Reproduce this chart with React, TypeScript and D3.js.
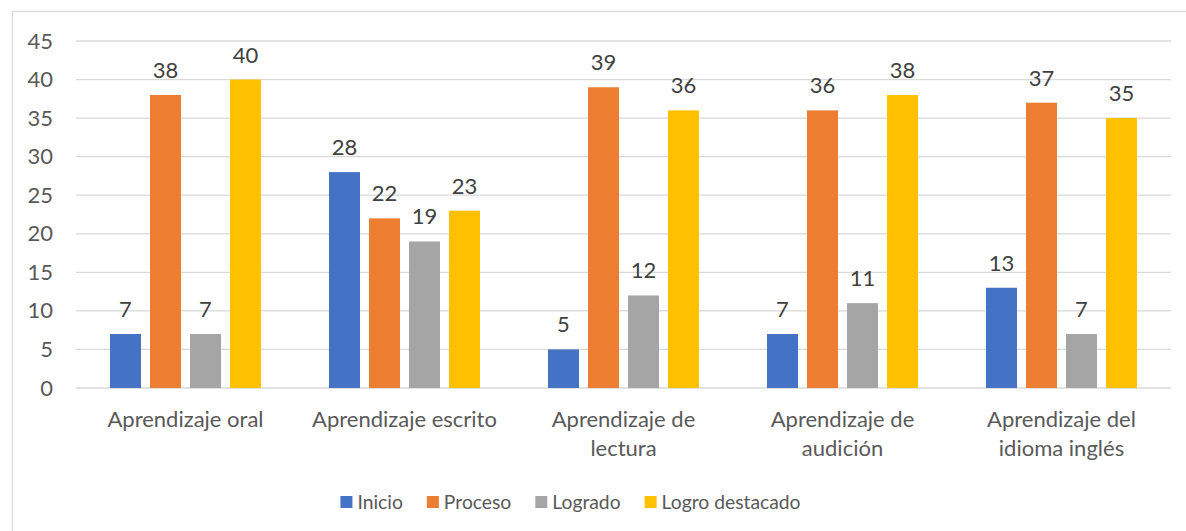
import React, { useEffect, useRef } from "react";
import * as d3 from "d3";

const categories = [
  "Aprendizaje oral",
  "Aprendizaje escrito",
  "Aprendizaje de lectura",
  "Aprendizaje de audición",
  "Aprendizaje del idioma inglés",
];
const seriesNames = ["Inicio", "Proceso", "Logrado", "Logro destacado"];
const inicio = [7, 28, 5, 7, 13];
const proceso = [38, 22, 39, 36, 37];
const logrado = [7, 19, 12, 11, 7];
const logroDestacado = [40, 23, 36, 38, 35];
const yTicks = [0, 5, 10, 15, 20, 25, 30, 35, 40, 45];

const colors = ["#4472C4", "#ED7D31", "#A5A5A5", "#FFC000"];
const FONT = "Lato, 'Open Sans', sans-serif";

const App = () => {
  const ref = useRef<SVGSVGElement>(null);

  useEffect(() => {
    const W = 1186,
      H = 531;
    const plot = { left: 76, right: 1171, top: 41, bottom: 388 };
    const values = [inicio, proceso, logrado, logroDestacado];

    const svg = d3.select(ref.current);
    svg.selectAll("*").remove();
    svg.attr("width", W).attr("height", H);

    // chart border (only top/left visible in the crop)
    svg
      .append("rect")
      .attr("x", 12.5)
      .attr("y", 11.5)
      .attr("width", 1300)
      .attr("height", 700)
      .attr("fill", "#fff")
      .attr("stroke", "#d9d9d9")
      .attr("stroke-width", 1.3);

    const x = d3
      .scaleBand<string>()
      .domain(categories)
      .range([plot.left, plot.right])
      .padding(0);
    const bw = x.bandwidth();
    const x1 = d3
      .scaleBand<string>()
      .domain(seriesNames)
      .range([bw / 2 - 75.5, bw / 2 + 75.5])
      .paddingInner(0.225)
      .paddingOuter(0);
    const y = d3.scaleLinear().domain([0, 45]).range([plot.bottom, plot.top]);

    // gridlines
    svg
      .append("g")
      .selectAll("line")
      .data(yTicks)
      .join("line")
      .attr("x1", plot.left)
      .attr("x2", plot.right)
      .attr("y1", (d) => y(d))
      .attr("y2", (d) => y(d))
      .attr("stroke", "#d9d9d9")
      .attr("stroke-width", 1.3);

    // y tick labels
    svg
      .append("g")
      .selectAll("text")
      .data(yTicks)
      .join("text")
      .attr("x", 53)
      .attr("y", (d) => y(d) + 7.5)
      .attr("text-anchor", "end")
      .attr("font-family", FONT)
      .attr("font-size", 22)
      .attr("fill", "#595959")
      .text((d) => d);

    // bars + labels
    seriesNames.forEach((s, si) => {
      const g = svg.append("g");
      g.selectAll("rect")
        .data(values[si])
        .join("rect")
        .attr("x", (d, i) => (x(categories[i]) as number) + (x1(s) as number))
        .attr("y", (d) => y(d))
        .attr("width", x1.bandwidth())
        .attr("height", (d) => y(0) - y(d))
        .attr("fill", colors[si]);
      g.selectAll("text")
        .data(values[si])
        .join("text")
        .attr("x", (d, i) => (x(categories[i]) as number) + (x1(s) as number) + x1.bandwidth() / 2)
        .attr("y", (d) => y(d) - 17)
        .attr("text-anchor", "middle")
        .attr("font-family", FONT)
        .attr("font-size", 22)
        .attr("fill", "#404040")
        .text((d) => d);
    });

    // category labels with wrapping
    const catG = svg.append("g");
    categories.forEach((c) => {
      const cx = (x(c) as number) + bw / 2;
      const t = catG
        .append("text")
        .attr("text-anchor", "middle")
        .attr("font-family", FONT)
        .attr("font-size", 22)
        .attr("fill", "#595959");
      const words = c.split(" ");
      let lines: string[] = [];
      let cur = "";
      const probe = t.append("tspan");
      words.forEach((w) => {
        const test = cur ? cur + " " + w : w;
        probe.text(test);
        if ((probe.node() as SVGTSpanElement).getComputedTextLength() > 205 && cur) {
          lines.push(cur);
          cur = w;
        } else {
          cur = test;
        }
      });
      lines.push(cur);
      probe.remove();
      lines.forEach((l, li) => {
        t.append("tspan")
          .attr("x", cx)
          .attr("y", 427 + li * 29)
          .text(l);
      });
    });

    // legend
    const leg = svg.append("g");
    let lx = 0;
    seriesNames.forEach((s, i) => {
      const item = leg.append("g").attr("transform", `translate(${lx},0)`);
      item
        .append("rect")
        .attr("x", 0)
        .attr("y", 496)
        .attr("width", 12)
        .attr("height", 12)
        .attr("fill", colors[i]);
      const tx = item
        .append("text")
        .attr("x", 17)
        .attr("y", 509)
        .attr("font-family", FONT)
        .attr("font-size", 19.3)
        .attr("fill", "#595959")
        .text(s);
      lx += 17 + (tx.node() as SVGTextElement).getComputedTextLength() + 24;
    });
    const total = lx - 24;
    leg.attr("transform", `translate(${570.5 - total / 2},0)`);
  }, []);

  return (
    <div style={{ position: "absolute", left: 0, top: 0 }}>
      <svg ref={ref} style={{ display: "block" }} />
    </div>
  );
};

export default App;
